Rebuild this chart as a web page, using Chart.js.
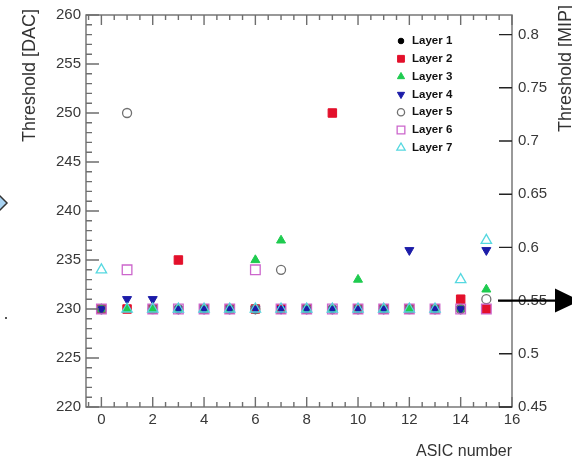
<!DOCTYPE html>
<html>
<head>
<meta charset="utf-8">
<script src="https://cdn.jsdelivr.net/npm/chart.js@4.4.1/dist/chart.umd.min.js"></script>
<style>
  html, body { margin: 0; padding: 0; background: #fff; }
  #wrap { width: 572px; height: 460px; }
</style>
</head>
<body>
<div id="wrap"><canvas id="c" width="572" height="460"></canvas></div>
<script>
// ASIC index and per-layer thresholds (DAC)
var asics  = [0, 1, 2, 3, 4, 5, 6, 7, 8, 9, 10, 11, 12, 13, 14, 15];
var layer1 = [230, 230, 230, 230, 230, 230, 230, 230, 230, 230, 230, 230, 230, 230, 230, 230];
var layer2 = [230, 230, 230, 235, 230, 230, 230, 230, 230, 250, 230, 230, 230, 230, 231, 230];
var layer3 = [230, 230, 230, 230, 230, 230, 235, 237, 230, 230, 233, 230, 230, 230, 230, 232];
var layer4 = [230, 231, 231, 230, 230, 230, 230, 230, 230, 230, 230, 230, 236, 230, 230, 236];
var layer5 = [230, 250, 230, 230, 230, 230, 230, 234, 230, 230, 230, 230, 230, 230, 230, 231];
var layer6 = [230, 234, 230, 230, 230, 230, 234, 230, 230, 230, 230, 230, 230, 230, 230, 230];
var layer7 = [234, 230, 230, 230, 230, 230, 230, 230, 230, 230, 230, 230, 230, 230, 233, 237];
var layerNames = ['Layer 1', 'Layer 2', 'Layer 3', 'Layer 4', 'Layer 5', 'Layer 6', 'Layer 7'];

// tick labels
var xTicks   = [0, 2, 4, 6, 8, 10, 12, 14, 16];
var dacTicks = [220, 225, 230, 235, 240, 245, 250, 255, 260];
var mipTicks = [0.45, 0.5, 0.55, 0.6, 0.65, 0.7, 0.75, 0.8];

var layers = [layer1, layer2, layer3, layer4, layer5, layer6, layer7];
var styles = [
  { shape: 'circle',   rot: 0,   r: 3.5, fill: '#000000', line: '#000000', bw: 1 },
  { shape: 'rect',     rot: 0,   r: 6,   fill: '#e3102b', line: '#e3102b', bw: 1 },
  { shape: 'triangle', rot: 0,   r: 5.2, fill: '#1ecb4f', line: '#1ecb4f', bw: 1 },
  { shape: 'triangle', rot: 180, r: 5.2, fill: '#1c1ca8', line: '#1c1ca8', bw: 1 },
  { shape: 'circle',   rot: 0,   r: 4.5, fill: 'rgba(0,0,0,0)', line: '#707070', bw: 1.3 },
  { shape: 'rect',     rot: 0,   r: 6.8, fill: 'rgba(0,0,0,0)', line: '#cc66cc', bw: 1.3 },
  { shape: 'triangle', rot: 0,   r: 6,   fill: 'rgba(0,0,0,0)', line: '#55d8e0', bw: 1.3 }
];

var datasets = layers.map(function (vals, i) {
  var s = styles[i];
  return {
    label: layerNames[i],
    data: asics.map(function (a, k) { return { x: a, y: vals[k] }; }),
    pointStyle: s.shape,
    rotation: s.rot,
    pointRadius: s.r,
    pointHoverRadius: s.r,
    backgroundColor: s.fill,
    borderColor: s.line,
    borderWidth: s.bw,
    order: 7 - i   // later layers on top, like the original
  };
});

var font = 'Liberation Sans';

var frame = {
  id: 'frame',
  afterDraw: function (chart) {
    var ctx = chart.ctx, ca = chart.chartArea;
    var sx = chart.scales.x, sy = chart.scales.y, sy1 = chart.scales.y1;
    var v, p, len;
    ctx.save();
    ctx.strokeStyle = '#6e6e6e';
    ctx.lineWidth = 1.4;
    ctx.strokeRect(ca.left, ca.top, ca.right - ca.left, ca.bottom - ca.top);

    ctx.beginPath();
    // x ticks, bottom and top
    for (v = -0.5; v <= 16.001; v += 0.5) {
      p = sx.getPixelForValue(v);
      len = (Math.abs(v % 2) < 0.01) ? 10 : 5;
      ctx.moveTo(p, ca.bottom); ctx.lineTo(p, ca.bottom - len);
      ctx.moveTo(p, ca.top); ctx.lineTo(p, ca.top + len);
    }
    // DAC ticks on the left
    for (v = 220; v <= 260; v += 1) {
      p = sy.getPixelForValue(v);
      len = (v % 5 === 0) ? 13 : 6;
      ctx.moveTo(ca.left, p); ctx.lineTo(ca.left + len, p);
    }
    ctx.stroke();
    // MIP ticks on the right
    ctx.beginPath();
    ctx.strokeStyle = '#222';
    mipTicks.forEach(function (m) {
      var q = sy1.getPixelForValue(m);
      ctx.moveTo(ca.right, q); ctx.lineTo(ca.right - 13, q);
    });
    ctx.stroke();

    // axis titles
    ctx.fillStyle = '#333';
    ctx.font = '18px "' + font + '"';
    ctx.textBaseline = 'middle';
    ctx.save();
    ctx.translate(30, 9);
    ctx.rotate(-Math.PI / 2);
    ctx.textAlign = 'right';
    ctx.fillText('Threshold [DAC]', 0, 0);
    ctx.restore();
    ctx.save();
    ctx.translate(566, 5);
    ctx.rotate(-Math.PI / 2);
    ctx.textAlign = 'right';
    ctx.fillText('Threshold [MIP]', 0, 0);
    ctx.restore();
    ctx.font = '16px "' + font + '"';
    ctx.textAlign = 'right';
    ctx.textBaseline = 'alphabetic';
    ctx.fillText('ASIC number', 512, 456);

    // legend inside the frame
    ctx.font = 'bold 11.5px "' + font + '"';
    ctx.textAlign = 'left';
    ctx.textBaseline = 'middle';
    layerNames.forEach(function (name, i) {
      var s = styles[i], y = 41 + i * 17.8;
      ctx.fillStyle = s.fill;
      ctx.strokeStyle = s.line;
      ctx.lineWidth = s.bw;
      Chart.helpers.drawPoint(ctx, { pointStyle: s.shape, rotation: s.rot, radius: s.r * 0.8, borderWidth: s.bw }, 401, y);
      ctx.fillStyle = '#111';
      ctx.fillText(name, 412, y);
    });

    // bits of the surrounding figure: arrow at 0.55 MIP, diamond on the left
    var ay = sy1.getPixelForValue(0.55);
    ctx.strokeStyle = '#000';
    ctx.lineWidth = 2.2;
    ctx.beginPath();
    ctx.moveTo(498, ay); ctx.lineTo(557, ay);
    ctx.stroke();
    ctx.fillStyle = '#000';
    ctx.beginPath();
    ctx.moveTo(555, ay - 12); ctx.lineTo(580, ay); ctx.lineTo(555, ay + 12);
    ctx.closePath();
    ctx.fill();

    ctx.fillStyle = '#a9d3f2';
    ctx.strokeStyle = '#333';
    ctx.lineWidth = 1.5;
    ctx.beginPath();
    ctx.moveTo(-10, 186); ctx.lineTo(7, 203); ctx.lineTo(-10, 220);
    ctx.closePath();
    ctx.fill(); ctx.stroke();
    ctx.fillStyle = '#555';
    ctx.fillRect(5, 317, 2, 2);
    ctx.restore();
  }
};

function fixedTicks(list) {
  return function (scale) {
    scale.ticks = list.map(function (v) { return { value: v }; });
  };
}

var tickFont = { family: font, size: 15 };

new Chart(document.getElementById('c'), {
  type: 'scatter',
  data: { datasets: datasets },
  options: {
    responsive: false,
    animation: false,
    events: [],
    layout: { padding: { top: 7, left: 0, right: 0, bottom: 0 } },
    plugins: { legend: { display: false }, tooltip: { enabled: false } },
    scales: {
      x: {
        type: 'linear', position: 'bottom', min: -0.6, max: 16,
        afterBuildTicks: fixedTicks(xTicks),
        afterFit: function (s) { s.height = 53; },
        grid: { display: false, drawTicks: false },
        border: { display: false },
        ticks: { font: tickFont, color: '#383838', padding: 4, maxRotation: 0, autoSkip: false,
                 callback: function (v) { return String(v); } }
      },
      y: {
        type: 'linear', position: 'left', min: 220, max: 260,
        afterBuildTicks: fixedTicks(dacTicks),
        afterFit: function (s) { s.width = 86; },
        grid: { display: false, drawTicks: false },
        border: { display: false },
        ticks: { font: tickFont, color: '#383838', padding: 5, autoSkip: false,
                 callback: function (v) { return String(v); } }
      },
      y1: {
        type: 'linear', position: 'right', min: 0.45, max: 0.8184,
        afterBuildTicks: fixedTicks(mipTicks),
        afterFit: function (s) { s.width = 60; },
        grid: { display: false, drawTicks: false },
        border: { display: false },
        ticks: { font: tickFont, color: '#383838', padding: 6, autoSkip: false,
                 callback: function (v) { return String(v); } }
      }
    }
  },
  plugins: [frame]
});
</script>
</body>
</html>
